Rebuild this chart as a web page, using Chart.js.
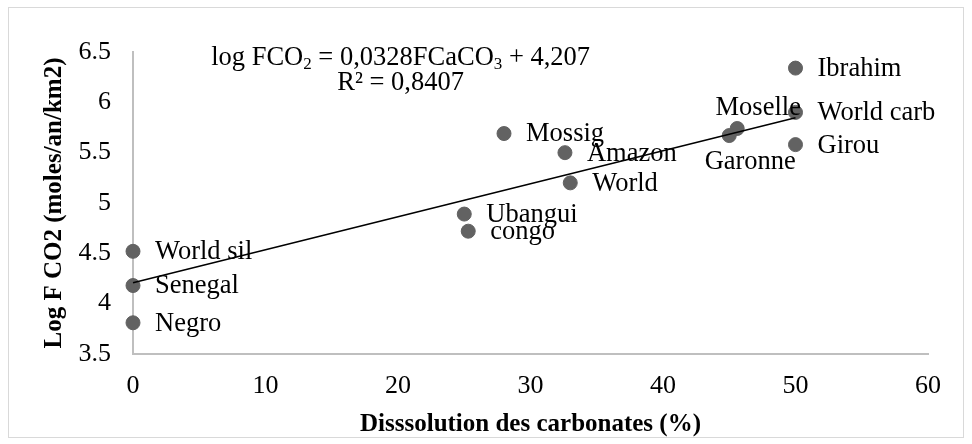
<!DOCTYPE html>
<html>
<head>
<meta charset="utf-8">
<script src="https://cdn.jsdelivr.net/npm/chart.js@4/dist/chart.umd.min.js"></script>
<style>
  body { margin: 0; background: #fff; }
  canvas { display: block; }
</style>
</head>
<body>
<canvas id="myChart" width="972" height="444"></canvas>
<script>
const siteNames = ["Ibrahim", "World carb", "Girou", "Moselle", "Garonne", "Mossig", "Amazon", "World", "Ubangui", "congo", "World sil", "Senegal", "Negro"];
const carbDissolution = [50, 50, 50, 45.6, 45, 28, 32.6, 33, 25, 25.3, 0, 0, 0];
const logFCO2 = [6.34, 5.90, 5.58, 5.74, 5.67, 5.69, 5.50, 5.20, 4.89, 4.72, 4.52, 4.18, 3.81];

const trendX = [0, 50];
const trendY = [4.207, 5.847];

const xTicks = [0, 10, 20, 30, 40, 50, 60];
const yTicks = [3.5, 4, 4.5, 5, 5.5, 6, 6.5];

const serif = "'Liberation Serif', 'Times New Roman', serif";

// labels that are not placed to the right of their point
const labelShift = {
  "Moselle": { dx: 21, dy: -20, align: "center" },
  "Garonne": { dx: 21, dy: 26, align: "center" }
};

const pointData = carbDissolution.map((x, i) => ({ x: x, y: logFCO2[i] }));
const lineData = trendX.map((x, i) => ({ x: x, y: trendY[i] }));

function drawRuns(ctx, runs, cx, cy) {
  let total = 0;
  runs.forEach(r => {
    ctx.font = (r.sub ? "17px " : "26.5px ") + serif;
    r.w = ctx.measureText(r.t).width;
    total += r.w;
  });
  let x = cx - total / 2;
  runs.forEach(r => {
    ctx.font = (r.sub ? "17px " : "26.5px ") + serif;
    ctx.fillText(r.t, x, r.sub ? cy + 6 : cy);
    x += r.w;
  });
}

const extras = {
  id: "extras",
  beforeDraw(chart) {
    const ctx = chart.ctx;
    ctx.save();
    ctx.fillStyle = "#fff";
    ctx.fillRect(0, 0, chart.width, chart.height);
    ctx.strokeStyle = "#d9d9d9";
    ctx.lineWidth = 1;
    ctx.strokeRect(8.5, 7.5, 955, 430);
    ctx.restore();
  },
  afterDatasetsDraw(chart) {
    const ctx = chart.ctx;
    const meta = chart.getDatasetMeta(1);
    ctx.save();
    ctx.fillStyle = "#000";
    ctx.font = "26.5px " + serif;
    ctx.textBaseline = "middle";
    meta.data.forEach((pt, i) => {
      const name = siteNames[i];
      const s = labelShift[name];
      if (s) {
        ctx.textAlign = s.align;
        ctx.fillText(name, pt.x + s.dx, pt.y + s.dy);
      } else {
        ctx.textAlign = "left";
        ctx.fillText(name, pt.x + 22, pt.y + 1);
      }
    });

    // regression equation
    const xs = chart.scales.x, ys = chart.scales.y;
    const cx = xs.getPixelForValue(20.2);
    ctx.textAlign = "left";
    drawRuns(ctx, [
      { t: "log FCO" }, { t: "2", sub: true },
      { t: " = 0,0328FCaCO" }, { t: "3", sub: true },
      { t: " + 4,207" }
    ], cx, ys.getPixelForValue(6.44));
    drawRuns(ctx, [{ t: "R² = 0,8407" }], cx, ys.getPixelForValue(6.19));
    ctx.restore();
  }
};

new Chart("myChart", {
  type: "scatter",
  data: {
    datasets: [
      {
        type: "line",
        data: lineData,
        borderColor: "#000",
        borderWidth: 1.5,
        pointRadius: 0,
        fill: false,
        clip: false,
        order: 0
      },
      {
        data: pointData,
        backgroundColor: "#626262",
        borderColor: "#626262",
        pointRadius: 7,
        pointHoverRadius: 7,
        clip: false,
        order: 1
      }
    ]
  },
  options: {
    responsive: false,
    animation: false,
    events: [],
    layout: { padding: { left: 0, top: 52, right: 44, bottom: 0 } },
    plugins: {
      legend: { display: false },
      tooltip: { enabled: false }
    },
    scales: {
      x: {
        type: "linear",
        min: 0,
        max: 60,
        afterBuildTicks: axis => { axis.ticks = xTicks.map(v => ({ value: v })); },
        afterFit: axis => { axis.height = 90; },
        grid: { display: false, drawTicks: false },
        border: { color: "#bfbfbf", width: 2 },
        ticks: { color: "#000", font: { family: serif, size: 26 }, padding: 17, callback: v => String(v) },
        title: {
          display: true,
          text: "Disssolution des carbonates (%)",
          color: "#000",
          font: { family: serif, size: 25, weight: "bold" },
          padding: { top: 0, bottom: 4 }
        }
      },
      y: {
        min: 3.5,
        max: 6.5,
        afterBuildTicks: axis => { axis.ticks = yTicks.map(v => ({ value: v })); },
        afterFit: axis => { axis.width = 133; },
        grid: { display: false, drawTicks: false },
        border: { color: "#bfbfbf", width: 2 },
        ticks: { color: "#000", font: { family: serif, size: 26 }, padding: 22, callback: v => String(v) },
        title: {
          display: true,
          text: "Log F CO2 (moles/an/km2)",
          color: "#000",
          font: { family: serif, size: 25, weight: "bold" },
          padding: { top: 40, bottom: 0 }
        }
      }
    }
  },
  plugins: [extras]
});
</script>
</body>
</html>
